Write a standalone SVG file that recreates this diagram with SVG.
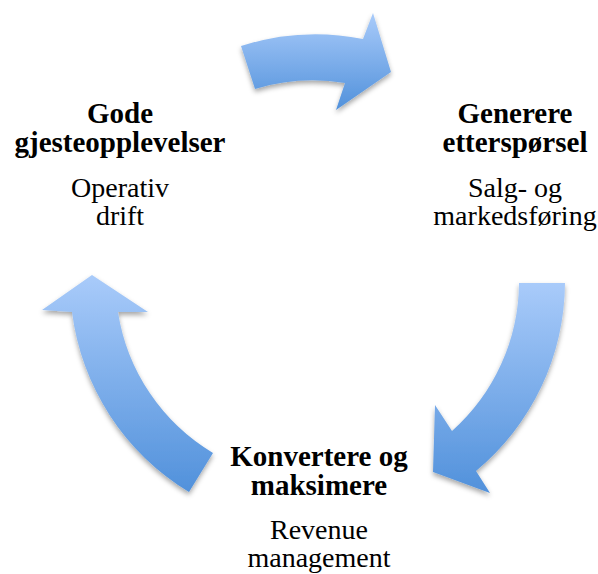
<svg xmlns="http://www.w3.org/2000/svg" width="598" height="574" viewBox="0 0 598 574">
  <defs>
    <linearGradient id="arrowFill" x1="0" y1="0" x2="0" y2="1">
      <stop offset="0" stop-color="#A9CBFA"/>
      <stop offset="1" stop-color="#5191DB"/>
    </linearGradient>
    <filter id="softShadow" x="-20%" y="-20%" width="140%" height="140%">
      <feDropShadow dx="0" dy="3" stdDeviation="2.5" flood-color="#000" flood-opacity="0.35"/>
    </filter>
  </defs>
  <style>
    .arrow { fill: url(#arrowFill); filter: url(#softShadow); }
    .title { font-family: "Liberation Serif", "Times New Roman", serif; font-weight: bold; font-size: 29px; fill: #000; text-anchor: middle; }
    .sub { font-family: "Liberation Serif", "Times New Roman", serif; font-size: 28px; fill: #000; text-anchor: middle; }
  </style>

  <rect width="598" height="574" fill="#fff"/>

  <!-- curved cycle arrows around a common centre -->
  <g id="connectors">
    <path class="arrow" d="M 241,46 A 246 246 0 0 1 363,39 L 373,13 L 391,72 L 336,110 L 345,83 A 200 200 0 0 0 255,89 Z"/>
    <path class="arrow" d="M 519,283 L 565,283 A 246 246 0 0 1 476,471 L 490,493 L 433,472 L 435,405 L 452,431 A 200 200 0 0 0 519,283 Z"/>
    <path class="arrow" d="M 213,453 L 189,492 A 246 246 0 0 1 72,312 L 42,310 L 92,275 L 148,312 L 118,312 A 200 200 0 0 0 213,453 Z"/>
  </g>

  <g id="node-gode">
    <text class="title" x="120" y="123">Gode</text>
    <text class="title" x="120" y="152">gjesteopplevelser</text>
    <text class="sub" x="120" y="197">Operativ</text>
    <text class="sub" x="120" y="225">drift</text>
  </g>

  <g id="node-generere">
    <text class="title" x="515" y="123">Generere</text>
    <text class="title" x="515" y="152">etterspørsel</text>
    <text class="sub" x="515" y="197">Salg- og</text>
    <text class="sub" x="515" y="225">markedsføring</text>
  </g>

  <g id="node-konvertere">
    <text class="title" x="319" y="466">Konvertere og</text>
    <text class="title" x="319" y="495">maksimere</text>
    <text class="sub" x="319" y="539">Revenue</text>
    <text class="sub" x="319" y="567">management</text>
  </g>
</svg>
